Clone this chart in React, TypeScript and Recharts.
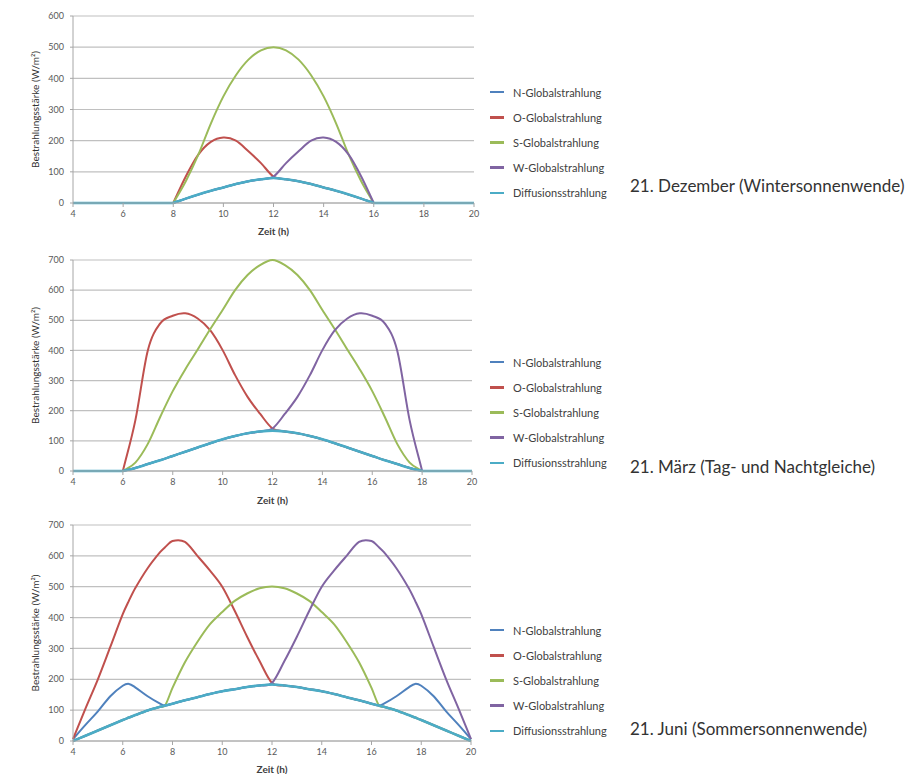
import React from 'react';
import { LineChart, Line, XAxis, YAxis, CartesianGrid, Legend } from 'recharts';

// ---- 21. Dezember ----
const decHours = [4, 5, 6, 7, 8, 8.5, 9, 9.5, 10, 10.5, 11, 11.5, 12, 12.5, 13, 13.5, 14, 14.5, 15, 15.5, 16, 17, 18, 19, 20];
const decN = [0, 0, 0, 0, 0, 14, 27, 39, 50, 61, 70, 76, 80, 76, 70, 61, 50, 39, 27, 14, 0, 0, 0, 0, 0];
const decO = [0, 0, 0, 0, 0, 85, 155, 196, 210, 200, 166, 128, 85, 76, 70, 61, 50, 39, 27, 14, 0, 0, 0, 0, 0];
const decS = [0, 0, 0, 0, 0, 70, 155, 255, 342, 410, 460, 490, 500, 490, 460, 410, 342, 255, 155, 70, 0, 0, 0, 0, 0];
const decW = [0, 0, 0, 0, 0, 14, 27, 39, 50, 61, 70, 76, 85, 128, 166, 200, 210, 196, 155, 85, 0, 0, 0, 0, 0];
const decDiff = [0, 0, 0, 0, 0, 14, 27, 39, 50, 61, 70, 76, 80, 76, 70, 61, 50, 39, 27, 14, 0, 0, 0, 0, 0];

// ---- 21. März ----
const marHours = [4, 5, 6, 6.5, 7, 7.5, 8, 8.5, 9, 9.5, 10, 10.5, 11, 11.5, 12, 12.5, 13, 13.5, 14, 14.5, 15, 15.5, 16, 16.5, 17, 17.5, 18, 19, 20];
const marN = [0, 0, 0, 10, 23, 36, 50, 64, 78, 92, 105, 116, 125, 131, 134, 131, 125, 116, 105, 92, 78, 64, 50, 36, 23, 10, 0, 0, 0];
const marO = [0, 0, 0, 168, 400, 490, 515, 523, 506, 467, 401, 318, 246, 190, 141, 131, 125, 116, 105, 92, 78, 64, 50, 36, 23, 10, 0, 0, 0];
const marS = [0, 0, 0, 28, 90, 180, 265, 337, 403, 470, 534, 600, 650, 683, 700, 683, 650, 600, 534, 470, 403, 337, 265, 180, 90, 28, 0, 0, 0];
const marW = [0, 0, 0, 10, 23, 36, 50, 64, 78, 92, 105, 116, 125, 131, 141, 190, 246, 318, 401, 467, 506, 523, 515, 490, 400, 168, 0, 0, 0];
const marDiff = [0, 0, 0, 10, 23, 36, 50, 64, 78, 92, 105, 116, 125, 131, 134, 131, 125, 116, 105, 92, 78, 64, 50, 36, 23, 10, 0, 0, 0];

// ---- 21. Juni ----
const junHours = [4, 4.5, 5, 5.5, 6, 6.25, 6.5, 7, 7.5, 7.7, 8, 8.5, 9, 9.5, 10, 10.5, 11, 11.5, 12, 12.5, 13, 13.5, 14, 14.5, 15, 15.5, 16, 16.3, 16.5, 17, 17.5, 17.75, 18, 18.5, 19, 19.5, 20];
const junN = [6, 52, 96, 145, 179, 185, 174, 145, 121, 115, 121, 132, 142, 152, 161, 168, 175, 180, 183, 180, 175, 168, 161, 152, 142, 132, 121, 115, 121, 145, 174, 185, 179, 145, 96, 52, 6];
const junO = [6, 105, 200, 305, 411, 455, 495, 560, 612, 628, 648, 645, 600, 553, 500, 422, 338, 259, 188, 180, 175, 168, 161, 152, 142, 132, 121, 115, 111, 99, 84, 76, 68, 51, 34, 17, 0];
const junS = [0, 17, 34, 51, 68, 76, 84, 99, 111, 115, 172, 255, 321, 378, 418, 454, 478, 495, 501, 495, 478, 454, 418, 378, 321, 255, 172, 115, 111, 99, 84, 76, 68, 51, 34, 17, 0];
const junW = [0, 17, 34, 51, 68, 76, 84, 99, 111, 115, 121, 132, 142, 152, 161, 168, 175, 180, 188, 259, 338, 422, 500, 553, 600, 645, 648, 628, 612, 560, 495, 455, 411, 305, 200, 105, 6];
const junDiff = [0, 17, 34, 51, 68, 76, 84, 99, 111, 115, 121, 132, 142, 152, 161, 168, 175, 180, 183, 180, 175, 168, 161, 152, 142, 132, 121, 115, 111, 99, 84, 76, 68, 51, 34, 17, 0];

const xTicks = [4, 6, 8, 10, 12, 14, 16, 18, 20];
const yTicks600 = [0, 100, 200, 300, 400, 500, 600];
const yTicks700 = [0, 100, 200, 300, 400, 500, 600, 700];

const seriesNames = ['N-Globalstrahlung', 'O-Globalstrahlung', 'S-Globalstrahlung', 'W-Globalstrahlung', 'Diffusionsstrahlung'];
const seriesColors = ['#4F81BD', '#C0504D', '#9BBB59', '#8064A2', '#4BACC6'];
const seriesKeys = ['n', 'o', 's', 'w', 'd'];

const titles = ['21. Dezember (Wintersonnenwende)', '21. März (Tag- und Nachtgleiche)', '21. Juni (Sommersonnenwende)'];
const yTitle = 'Bestrahlungsstärke (W/m²)';
const xTitle = 'Zeit (h)';

function buildRows(hours: number[], n: number[], o: number[], s: number[], w: number[], d: number[]) {
  return hours.map((t, i) => ({ t, n: n[i], o: o[i], s: s[i], w: w[i], d: d[i] }));
}

const decRows = buildRows(decHours, decN, decO, decS, decW, decDiff);
const marRows = buildRows(marHours, marN, marO, marS, marW, marDiff);
const junRows = buildRows(junHours, junN, junO, junS, junW, junDiff);

// Smooth Hermite (Catmull-Rom style) curve like Excel's smoothed lines;
// flat baseline segments stay straight, with a corner where the curve leaves them.
const smoothCurve: any = (context: any) => {
  let xs: number[] = [];
  let ys: number[] = [];
  return {
    areaStart() {},
    areaEnd() {},
    lineStart() {
      xs = [];
      ys = [];
    },
    point(x: number, y: number) {
      xs.push(+x);
      ys.push(+y);
    },
    lineEnd() {
      const n = xs.length;
      if (!n) return;
      context.moveTo(xs[0], ys[0]);
      if (n === 1) return;
      const sec = (i: number) => (ys[i + 1] - ys[i]) / (xs[i + 1] - xs[i]);
      const tan = (i: number) => {
        if (i === 0) return sec(0);
        if (i === n - 1) return sec(n - 2);
        return (ys[i + 1] - ys[i - 1]) / (xs[i + 1] - xs[i - 1]);
      };
      const flat = (i: number) => Math.abs(ys[i + 1] - ys[i]) < 1e-6;
      for (let i = 0; i < n - 1; i++) {
        const h = xs[i + 1] - xs[i];
        if (flat(i)) {
          context.lineTo(xs[i + 1], ys[i + 1]);
          continue;
        }
        const s = sec(i);
        const m0 = i > 0 && flat(i - 1) ? s : tan(i);
        const m1 = i < n - 2 && flat(i + 1) ? s : tan(i + 1);
        context.bezierCurveTo(xs[i] + h / 3, ys[i] + (m0 * h) / 3, xs[i + 1] - h / 3, ys[i + 1] - (m1 * h) / 3, xs[i + 1], ys[i + 1]);
      }
    },
  };
};

const FONT = 'Lato, "Open Sans", sans-serif';

const renderLegend = (props: any) => {
  const payload = [...(props.payload || [])].sort(
    (a: any, b: any) => seriesNames.indexOf(a.value) - seriesNames.indexOf(b.value)
  );
  return (
    <div style={{ fontFamily: FONT, fontSize: 11, color: '#404040' }}>
      {payload.map((e: any) => (
        <div key={e.value} style={{ display: 'flex', alignItems: 'center', height: 25.2, whiteSpace: 'nowrap' }}>
          <span style={{ display: 'inline-block', width: 14, height: 2.5, background: e.color, marginRight: 9 }} />
          <span>{e.value}</span>
        </div>
      ))}
    </div>
  );
};

type PanelProps = {
  top: number;
  height: number;
  right: number;
  yMax: number;
  yTicks: number[];
  rows: any[];
  xAxisHeight: number;
  xLabelOffset: number;
  legendTop: number;
};

function Panel(p: PanelProps) {
  return (
    <div style={{ position: 'absolute', left: 0, top: p.top }}>
      <LineChart
        width={620}
        height={p.height}
        data={p.rows}
        margin={{ top: 16, right: 620 - p.right, left: 0, bottom: 0 }}
      >
        <CartesianGrid vertical={false} stroke="#c0c0c0" strokeWidth={1.2} />
        <XAxis
          dataKey="t"
          type="number"
          domain={[4, 20]}
          ticks={xTicks}
          interval={0}
          height={p.xAxisHeight}
          tickSize={4}
          tickMargin={4}
          stroke="#a6a6a6"
          tick={{ fontSize: 9, fill: '#595959', fontFamily: FONT }}
          label={{ value: xTitle, position: 'insideBottom', offset: p.xLabelOffset, style: { fontSize: 10, fontWeight: 700, fill: '#404040', fontFamily: FONT } }}
        />
        <YAxis
          type="number"
          domain={[0, p.yMax]}
          ticks={p.yTicks}
          interval={0}
          width={73}
          tickSize={3}
          tickMargin={6}
          stroke="#a6a6a6"
          tick={{ fontSize: 9, fill: '#595959', fontFamily: FONT }}
          label={{ value: yTitle, angle: -90, position: 'insideLeft', offset: 35, style: { textAnchor: 'middle', fontSize: 10, fill: '#333', fontFamily: FONT } }}
        />
        {seriesKeys.map((k, i) => (
          <Line
            key={k}
            type={smoothCurve}
            dataKey={k}
            name={seriesNames[i]}
            stroke={seriesColors[i]}
            strokeWidth={k === 'd' ? 2.6 : 2}
            dot={false}
            activeDot={false}
            isAnimationActive={false}
          />
        ))}
        <Legend
          layout="horizontal"
          verticalAlign="middle"
          align="center"
          content={renderLegend}
          wrapperStyle={{ left: 490, top: p.legendTop, width: 130, right: 'auto', bottom: 'auto' }}
        />
      </LineChart>
    </div>
  );
}

const titleStyle: React.CSSProperties = {
  position: 'absolute',
  left: 630,
  fontFamily: FONT,
  fontSize: 17,
  lineHeight: '22px',
  color: '#333',
  whiteSpace: 'nowrap',
};

export default function App() {
  return (
    <div style={{ position: 'absolute', left: 0, top: 0, width: 910, height: 774, background: '#fff', overflow: 'hidden' }}>
      <Panel top={0} height={240} right={474} yMax={600} yTicks={yTicks600} rows={decRows} xAxisHeight={37} xLabelOffset={5} legendTop={79.5} />
      <Panel top={244} height={264} right={472} yMax={700} yTicks={yTicks700} rows={marRows} xAxisHeight={37} xLabelOffset={4.5} legendTop={105.5} />
      <Panel top={509} height={265} right={471} yMax={700} yTicks={yTicks700} rows={junRows} xAxisHeight={33} xLabelOffset={1.5} legendTop={108.5} />
      <div style={{ ...titleStyle, top: 186 - 11 }}>{titles[0]}</div>
      <div style={{ ...titleStyle, top: 467 - 11 }}>{titles[1]}</div>
      <div style={{ ...titleStyle, top: 729 - 11 }}>{titles[2]}</div>
    </div>
  );
}
